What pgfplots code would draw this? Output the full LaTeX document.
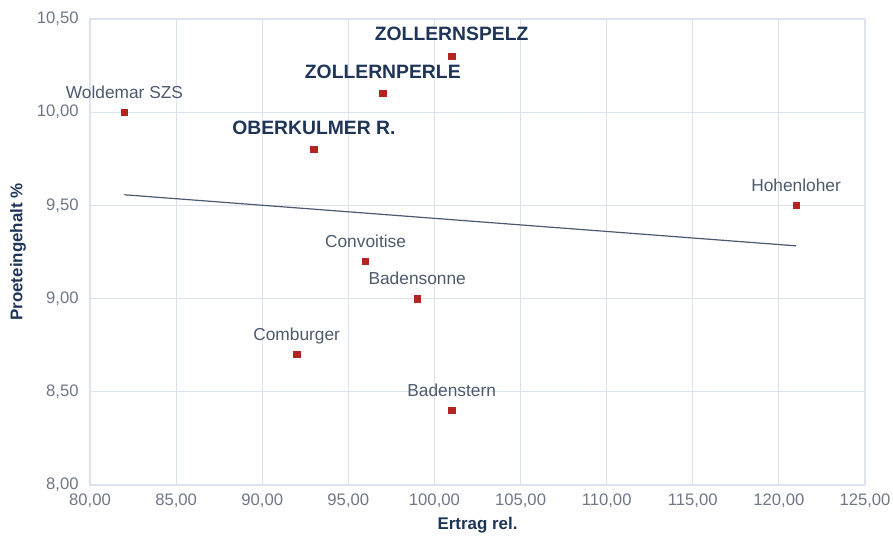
\documentclass[border=0pt]{standalone}
\usepackage{fontspec}
\setmainfont{Liberation Sans}
\usepackage{pgfplots}
\pgfplotsset{compat=1.18}
\definecolor{gridc}{HTML}{DCE3EC}
\definecolor{tickc}{HTML}{6F7787}
\definecolor{navy}{HTML}{1F3558}
\definecolor{lblc}{HTML}{4D5A6E}
\definecolor{mk}{HTML}{B42420}
\definecolor{trend}{HTML}{4A5A70}
\begin{document}
\begin{tikzpicture}
\path[use as bounding box] (-67.5pt,-41.25pt) rectangle (602.25pt,363.75pt);
\begin{axis}[
  at={(0,0)}, anchor=south west,
  scale only axis, width=581.25pt, height=349.5pt,
  xmin=80, xmax=125, ymin=8, ymax=10.5,
  xtick={80,85,...,125}, ytick={8,8.5,...,10.5},
  grid=major,
  major grid style={gridc, line width=0.8pt},
  axis line style={gridc, line width=0.8pt},
  tick style={draw=none},
  /pgf/number format/.cd, fixed, fixed zerofill, precision=2, use comma, 1000 sep={}, assume math mode=true,
  /pgfplots/.cd,
  ticklabel style={font=\fontsize{12.5pt}{14pt}\selectfont, text=tickc},
  xticklabel style={yshift=-3pt},
  yticklabel style={xshift=-5pt},
  xlabel={Ertrag rel.},
  ylabel={Proeteingehalt \%},
  xlabel style={at={(axis description cs:0.5,0)}, anchor=center, yshift=-30pt, font=\bfseries\fontsize{12.7pt}{14pt}\selectfont, text=navy},
  ylabel style={at={(axis description cs:-0.093,0.5)}, anchor=center, font=\bfseries\fontsize{12.7pt}{14pt}\selectfont, text=navy},
  clip=false,
]
% trendline (linear regression)
\addplot[trend, line width=0.9pt] coordinates {(82,9.557) (121,9.283)};
% normal labels
\addplot[only marks, mark=square*, mark size=2.4pt, mark options={draw=mk, fill=mk},
  point meta=explicit symbolic, nodes near coords,
  every node near coord/.append style={anchor=base, yshift=10.5pt, inner sep=0pt,
    font=\fontsize{13pt}{15pt}\selectfont, text=lblc}]
  table[meta=lab, col sep=semicolon] {
x;y;lab
82;10.0;Woldemar SZS
121;9.5;Hohenloher
96;9.2;Convoitise
99;9.0;Badensonne
92;8.7;Comburger
101;8.4;Badenstern
};
% bold labels
\addplot[only marks, mark=square*, mark size=2.4pt, mark options={draw=mk, fill=mk},
  point meta=explicit symbolic, nodes near coords,
  every node near coord/.append style={anchor=base, yshift=11.6pt, inner sep=0pt,
    font=\bfseries\fontsize{14.5pt}{16pt}\selectfont, text=navy}]
  table[meta=lab, col sep=semicolon] {
x;y;lab
93;9.8;OBERKULMER R.
97;10.1;ZOLLERNPERLE
101;10.3;ZOLLERNSPELZ
};
\end{axis}
\end{tikzpicture}
\end{document}
